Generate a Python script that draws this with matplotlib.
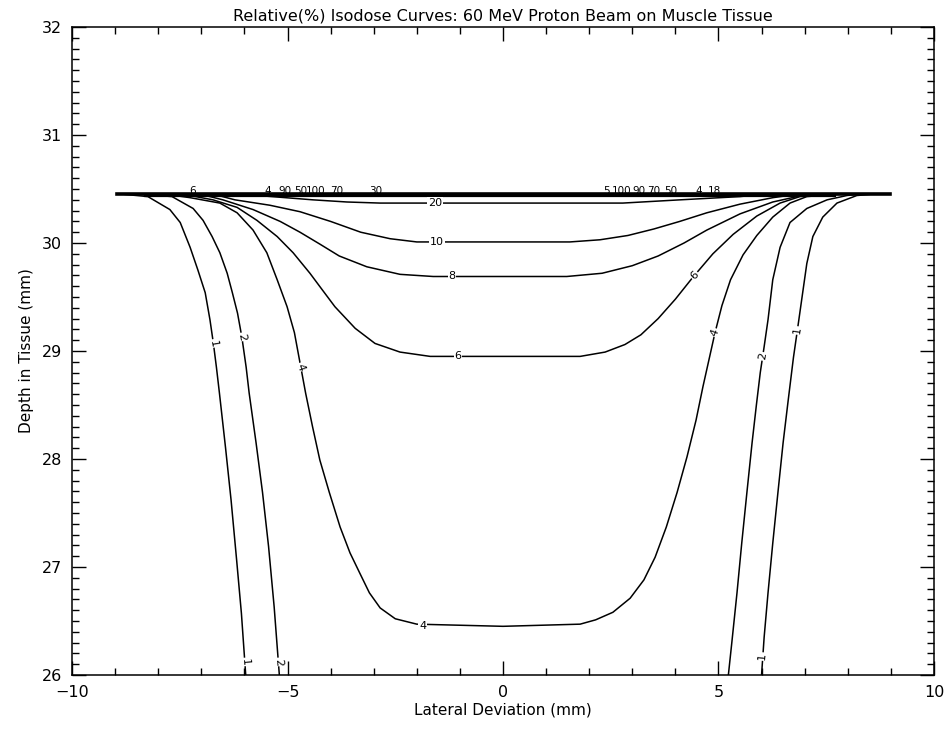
import numpy as np
import matplotlib.pyplot as plt
from matplotlib.ticker import MultipleLocator

# =============================================================================
# Isodose curves (lateral deviation [mm], depth [mm]) per dose level

SURFACE_DEPTH = 30.455
surface_x = [-8.96, 8.98]

iso1_left_x = [-8.77, -8.24, -7.73, -7.49, -7.26, -7.08, -6.91, -6.80, -6.72, -6.65,
               -6.58, -6.44, -6.31, -6.18, -6.07, -5.97]
iso1_left_y = [30.45, 30.43, 30.31, 30.19, 29.96, 29.75, 29.54, 29.29, 29.07, 28.85,
               28.61, 28.11, 27.62, 27.06, 26.57, 26.0]
iso1_right_x = [8.5, 8.21, 7.75, 7.42, 7.19, 7.05, 6.94, 6.83, 6.74, 6.62, 6.50, 6.38,
                6.26, 6.15, 6.06, 6.0]
iso1_right_y = [30.45, 30.44, 30.37, 30.24, 30.06, 29.81, 29.50, 29.19, 28.94, 28.55,
                28.15, 27.69, 27.22, 26.76, 26.35, 26.0]

iso2_left_x = [-8.3, -7.68, -7.19, -6.96, -6.75, -6.57, -6.40, -6.28, -6.16, -6.06,
               -5.96, -5.89, -5.73, -5.58, -5.44, -5.31, -5.19]
iso2_left_y = [30.45, 30.43, 30.32, 30.21, 30.06, 29.91, 29.72, 29.54, 29.35, 29.13,
               28.85, 28.61, 28.15, 27.69, 27.19, 26.63, 26.0]
iso2_right_x = [8.2, 7.98, 7.52, 7.05, 6.66, 6.43, 6.26, 6.15, 6.06, 5.97, 5.88, 5.78,
                5.66, 5.54, 5.43, 5.31, 5.23]
iso2_right_y = [30.45, 30.44, 30.40, 30.32, 30.19, 29.96, 29.66, 29.29, 29.04, 28.80,
                28.50, 28.15, 27.69, 27.22, 26.76, 26.30, 26.0]

iso4_x = [-7.8, -7.26, -6.57, -6.17, -5.80, -5.48, -5.24, -5.01, -4.84, -4.71, -4.58,
          -4.42, -4.25, -4.03, -3.78, -3.55, -3.32, -3.10, -2.85, -2.50, -2.00, 0.0,
          1.79, 2.15, 2.55, 2.95, 3.27, 3.53, 3.79, 4.04, 4.27, 4.48, 4.64, 4.78, 4.92,
          5.08, 5.28, 5.57, 5.89, 6.26, 6.66, 7.05, 7.36, 7.8]
iso4_y = [30.45, 30.42, 30.37, 30.28, 30.12, 29.91, 29.66, 29.41, 29.17, 28.89, 28.61,
          28.30, 27.99, 27.69, 27.37, 27.13, 26.94, 26.76, 26.62, 26.52, 26.47, 26.45,
          26.47, 26.51, 26.58, 26.71, 26.88, 27.09, 27.37, 27.69, 28.02, 28.36, 28.67,
          28.92, 29.17, 29.42, 29.66, 29.89, 30.07, 30.24, 30.37, 30.43, 30.44, 30.45]

iso6_x = [-7.4, -6.73, -6.17, -5.71, -5.24, -4.87, -4.48, -4.20, -3.90, -3.43, -2.97,
          -2.39, -1.69, 0.0, 1.79, 2.37, 2.83, 3.20, 3.60, 4.00, 4.40, 4.87, 5.34, 5.89,
          6.43, 6.89, 7.4]
iso6_y = [30.45, 30.40, 30.33, 30.21, 30.06, 29.91, 29.72, 29.57, 29.41, 29.21, 29.07,
          28.99, 28.95, 28.95, 28.95, 28.99, 29.06, 29.15, 29.30, 29.48, 29.68, 29.90,
          30.08, 30.25, 30.37, 30.43, 30.45]

iso8_x = [-7.0, -6.50, -5.80, -5.17, -4.71, -4.25, -3.80, -3.16, -2.39, -1.62, 0.0,
          1.48, 2.30, 3.00, 3.60, 4.20, 4.73, 5.50, 6.26, 6.82, 7.1]
iso8_y = [30.45, 30.40, 30.31, 30.20, 30.10, 29.99, 29.88, 29.78, 29.71, 29.69, 29.69,
          29.69, 29.72, 29.79, 29.88, 30.00, 30.12, 30.27, 30.38, 30.43, 30.45]

iso10_x = [-6.7, -6.22, -5.41, -4.71, -4.00, -3.30, -2.62, -2.00, 0.0, 1.55, 2.25, 2.90,
           3.50, 4.10, 4.73, 5.50, 6.26, 6.8]
iso10_y = [30.45, 30.40, 30.35, 30.29, 30.20, 30.10, 30.04, 30.01, 30.01, 30.01, 30.03,
           30.07, 30.13, 30.20, 30.28, 30.36, 30.42, 30.45]

iso20_x = [-6.0, -4.41, -3.62, -2.85, 0.0, 2.78, 4.11, 5.50, 6.0]
iso20_y = [30.45, 30.40, 30.38, 30.37, 30.37, 30.37, 30.40, 30.43, 30.45]

# contour labels: text, x, y, rotation
label_text = ["1", "1", "2", "2", "4", "4", "4", "6", "6", "8", "10", "20",
              "2", "1", "1"]
label_x = [-6.72, -5.99, -6.06, -5.21, -4.70, -1.86, 4.92, -1.04, 4.45, -1.18, -1.53,
           -1.58, 6.03, 6.83, 6.02]
label_y = [29.07, 26.12, 29.13, 26.12, 28.85, 26.45, 29.17, 28.95, 29.70, 29.69, 30.01,
           30.37, 28.95, 29.19, 26.17]
label_rot = [-80, -85, -80, -85, -70, 0, 70, 0, 45, 0, 0, 0, 80, 82, 85]

# high dose levels squeezed onto the stopping depth
crowd_text = ["6", "4", "90", "50", "100", "70", "30",
              "5", "100", "90", "70", "50", "4", "18"]
crowd_x = [-7.2, -5.45, -5.05, -4.7, -4.35, -3.85, -2.95,
           2.4, 2.75, 3.15, 3.5, 3.9, 4.55, 4.9]

# =============================================================================
# Plot

fg = plt.figure(figsize=(9.53, 7.32), dpi=100)
ax = fg.add_axes([0.0756, 0.078, 0.9044, 0.885])

line_kw = dict(color="k", lw=1.1, solid_joinstyle="round")
ax.plot(surface_x, [SURFACE_DEPTH] * 2, color="k", lw=2.6, zorder=3)
ax.plot([-8.3, 7.7], [SURFACE_DEPTH - 0.02] * 2, color="k", lw=1.6, zorder=3)
for xs, ys in [(iso1_left_x, iso1_left_y), (iso1_right_x, iso1_right_y),
               (iso2_left_x, iso2_left_y), (iso2_right_x, iso2_right_y),
               (iso4_x, iso4_y), (iso6_x, iso6_y), (iso8_x, iso8_y),
               (iso10_x, iso10_y), (iso20_x, iso20_y)]:
    ax.plot(xs, ys, **line_kw)

for t, x, y, r in zip(label_text, label_x, label_y, label_rot):
    ax.text(x, y, t, fontsize=8, rotation=r, ha="center", va="center",
            rotation_mode="anchor", zorder=4,
            bbox=dict(facecolor="white", edgecolor="none", pad=0.6))

for t, x in zip(crowd_text, crowd_x):
    ax.text(x, SURFACE_DEPTH + 0.025, t, fontsize=7.5, ha="center", va="center",
            zorder=4)

ax.set_xlim(-10, 10)
ax.set_ylim(26, 32)
ax.xaxis.set_major_locator(MultipleLocator(5))
ax.xaxis.set_minor_locator(MultipleLocator(1))
ax.yaxis.set_major_locator(MultipleLocator(1))
ax.yaxis.set_minor_locator(MultipleLocator(0.1))
ax.tick_params(which="both", direction="in", top=True, right=True,
               labelsize=11.5, width=1.0)
ax.tick_params(which="major", length=10, pad=7)
ax.tick_params(which="minor", length=5)
for s in ax.spines.values():
    s.set_linewidth(1.1)

ax.set_xlabel("Lateral Deviation (mm)", fontsize=11, labelpad=2)
ax.set_ylabel("Depth in Tissue (mm)", fontsize=11, labelpad=6)
ax.set_title("Relative(%) Isodose Curves: 60 MeV Proton Beam on Muscle Tissue",
             fontsize=11.5, pad=5)

fg.savefig("out.png", dpi=100)
